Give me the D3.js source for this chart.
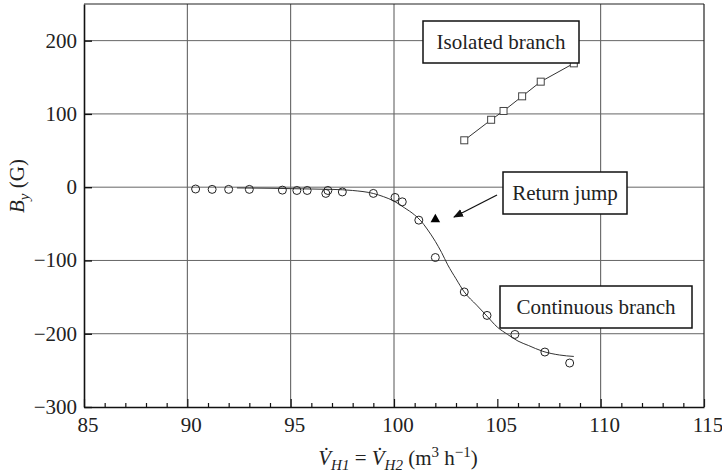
<!DOCTYPE html>
<html>
<head>
<meta charset="utf-8">
<script src="https://cdn.jsdelivr.net/npm/d3@7"></script>
<style>
  body { margin: 0; background: #fff; }
</style>
</head>
<body>
<div id="vis"></div>
<script>
// data
var contX = [90.4, 91.2, 92.0, 93.0, 94.6, 95.3, 95.8, 96.8, 96.7, 97.5, 99.0, 100.05, 100.4, 101.2, 102.0, 103.4, 104.5, 105.85, 107.3, 108.5];
var contY = [-2.5, -3, -3, -3, -4, -4.5, -4.5, -4.5, -8.5, -6.5, -8.5, -14, -20, -45, -96, -143, -175, -201, -225, -240];

var fitX = [92.4, 94, 96, 97, 98, 99, 99.5, 100, 100.5, 101, 101.3, 101.6, 102, 102.3, 102.6, 103, 103.4, 104, 104.5, 105, 105.5, 106, 106.5, 107.2, 108, 108.7];
var fitY = [-1, -1.5, -2.5, -3, -4.5, -8.6, -13, -19, -28, -38, -46, -57, -74, -89, -106, -125, -143, -161, -176, -191, -201, -210, -216, -224, -229, -231];

var isoX = [103.4, 104.7, 105.3, 106.2, 107.1, 108.7];
var isoY = [64, 92, 104, 124, 144, 169];

var jumpX = [102.0];
var jumpY = [-44];

var xTicks = [85, 90, 95, 100, 105, 110, 115];
var yTicks = [-300, -200, -100, 0, 100, 200];
var xGrid = [90, 95, 100, 110];
var yGrid = [-200, -100, 0, 100, 200];

var labelIso = 'Isolated branch';
var labelJump = 'Return jump';
var labelCont = 'Continuous branch';

var serif = '"Liberation Serif", "DejaVu Serif", serif';

var width = 722, height = 476;
var margin = {left: 84, top: 4, right: 18, bottom: 69};

var svg = d3.select('#vis').append('svg')
    .attr('width', width)
    .attr('height', height)
    .attr('font-family', serif);

var x = d3.scaleLinear().domain([85, 115]).range([margin.left, width - margin.right]);
var y = d3.scaleLinear().domain([-300, 250]).range([height - margin.bottom, margin.top]);

// grid
svg.append('g').selectAll('line').data(xGrid).enter().append('line')
    .attr('x1', function(d){ return x(d); }).attr('x2', function(d){ return x(d); })
    .attr('y1', y.range()[0]).attr('y2', y.range()[1])
    .attr('stroke', '#555').attr('stroke-width', 1);
svg.append('g').selectAll('line').data(yGrid).enter().append('line')
    .attr('y1', function(d){ return y(d); }).attr('y2', function(d){ return y(d); })
    .attr('x1', x.range()[0]).attr('x2', x.range()[1])
    .attr('stroke', '#666').attr('stroke-width', 1);

// axes: ticks point inward
var xAxis = d3.axisBottom(x).tickValues(d3.range(85, 116, 1)).tickSizeInner(-4).tickSizeOuter(0).tickFormat('');
var gx = svg.append('g').attr('transform', 'translate(0,' + y(-300) + ')').call(xAxis);
gx.select('.domain').attr('stroke', '#111').attr('stroke-width', 1.6);
gx.selectAll('.tick line').attr('stroke', '#111').attr('stroke-width', 1.2)
    .attr('y2', function(d){ return d % 5 === 0 ? -8 : -4; });
svg.append('g').selectAll('text').data(xTicks).enter().append('text')
    .attr('x', function(d){ return x(d) + 4; })
    .attr('y', y(-300) + 25)
    .attr('text-anchor', 'middle')
    .attr('font-family', serif)
    .attr('font-size', 21)
    .attr('fill', '#222')
    .text(function(d){ return d; });

var yAxis = d3.axisLeft(y).tickValues(yTicks).tickSizeInner(-8).tickSizeOuter(0).tickFormat('');
var gy = svg.append('g').attr('transform', 'translate(' + x(85) + ',0)').call(yAxis);
gy.select('.domain').attr('stroke', '#111').attr('stroke-width', 1.6);
gy.selectAll('.tick line').attr('stroke', '#111').attr('stroke-width', 1.4);
svg.append('g').selectAll('text').data(yTicks).enter().append('text')
    .attr('x', x(85) - 7)
    .attr('y', function(d){ return y(d) + 7; })
    .attr('text-anchor', 'end')
    .attr('font-family', serif)
    .attr('font-size', 21)
    .attr('fill', '#222')
    .text(function(d){ return d < 0 ? '\u2212' + Math.abs(d) : d; });

// top and right frame
svg.append('line').attr('x1', x(85)).attr('x2', x(115)).attr('y1', y(250)).attr('y2', y(250))
    .attr('stroke', '#222').attr('stroke-width', 1.2);
svg.append('line').attr('x1', x(115)).attr('x2', x(115)).attr('y1', y(250)).attr('y2', y(-300))
    .attr('stroke', '#222').attr('stroke-width', 1.2);

// fitted curve
var fit = fitX.map(function(d, i){ return {x: d, y: fitY[i]}; });
var line = d3.line().x(function(d){ return x(d.x); }).y(function(d){ return y(d.y); }).curve(d3.curveMonotoneX);
svg.append('path').datum(fit).attr('d', line)
    .attr('fill', 'none').attr('stroke', '#333').attr('stroke-width', 1);

// continuous branch points
var cont = contX.map(function(d, i){ return {x: d, y: contY[i]}; });
svg.append('g').selectAll('circle').data(cont).enter().append('circle')
    .attr('cx', function(d){ return x(d.x); })
    .attr('cy', function(d){ return y(d.y); })
    .attr('r', 4)
    .attr('fill', 'none')
    .attr('stroke', '#222')
    .attr('stroke-width', 1);

// isolated branch
var iso = isoX.map(function(d, i){ return {x: d, y: isoY[i]}; });
svg.append('path').datum(iso).attr('d', d3.line().x(function(d){ return x(d.x); }).y(function(d){ return y(d.y); }))
    .attr('fill', 'none').attr('stroke', '#333').attr('stroke-width', 1);
svg.append('g').selectAll('rect').data(iso).enter().append('rect')
    .attr('x', function(d){ return x(d.x) - 3.5; })
    .attr('y', function(d){ return y(d.y) - 3.5; })
    .attr('width', 7).attr('height', 7)
    .attr('fill', '#fff')
    .attr('stroke', '#444')
    .attr('stroke-width', 1);

// return jump point
var jump = jumpX.map(function(d, i){ return {x: d, y: jumpY[i]}; });
svg.append('g').selectAll('path').data(jump).enter().append('path')
    .attr('d', d3.symbol().type(d3.symbolTriangle).size(40))
    .attr('transform', function(d){ return 'translate(' + x(d.x) + ',' + y(d.y) + ')'; })
    .attr('fill', '#000');

// annotation boxes
function box(x0, y0, w, h, label)
{
    svg.append('rect').attr('x', x0).attr('y', y0).attr('width', w).attr('height', h)
        .attr('fill', '#fff').attr('stroke', '#111').attr('stroke-width', 1.5);
    svg.append('text').attr('x', x0 + w / 2).attr('y', y0 + h / 2 + 7)
        .attr('text-anchor', 'middle').attr('font-family', serif)
        .attr('font-size', 21).attr('fill', '#222')
        .text(label);
}
box(423, 21, 156, 42, labelIso);
box(503, 172, 124, 42, labelJump);
box(500, 286, 192, 42, labelCont);

// arrow to the return jump
svg.append('defs').append('marker')
    .attr('id', 'arr').attr('viewBox', '0 0 10 10').attr('refX', 9).attr('refY', 5)
    .attr('markerWidth', 10).attr('markerHeight', 10).attr('markerUnits', 'userSpaceOnUse')
    .attr('orient', 'auto')
    .append('path').attr('d', 'M0,1 L10,5 L0,9 Z').attr('fill', '#111');
svg.append('line').attr('x1', 497).attr('y1', 195).attr('x2', 454).attr('y2', 217)
    .attr('stroke', '#111').attr('stroke-width', 1.3).attr('marker-end', 'url(#arr)');

// axis titles
var xt = svg.append('text').attr('x', 398).attr('y', 465).attr('text-anchor', 'middle')
    .attr('font-family', serif).attr('font-size', 21).attr('fill', '#222');
xt.append('tspan').attr('font-style', 'italic').text('V\u0307');
xt.append('tspan').attr('font-style', 'italic').attr('font-size', 15).attr('dy', 5).text('H1');
xt.append('tspan').attr('dy', -5).text(' = ');
xt.append('tspan').attr('font-style', 'italic').text('V\u0307');
xt.append('tspan').attr('font-style', 'italic').attr('font-size', 15).attr('dy', 5).text('H2');
xt.append('tspan').attr('dy', -5).text(' (m');
xt.append('tspan').attr('font-size', 15).attr('dy', -8).text('3');
xt.append('tspan').attr('dy', 8).text(' h');
xt.append('tspan').attr('font-size', 15).attr('dy', -8).text('\u22121');
xt.append('tspan').attr('dy', 8).text(')');

var yt = svg.append('text').attr('transform', 'translate(24,186) rotate(-90)')
    .attr('text-anchor', 'middle').attr('font-family', serif).attr('font-size', 21).attr('fill', '#222');
yt.append('tspan').attr('font-style', 'italic').text('B');
yt.append('tspan').attr('font-style', 'italic').attr('font-size', 15).attr('dy', 5).text('y');
yt.append('tspan').attr('dy', -5).text(' (G)');
</script>
</body>
</html>
